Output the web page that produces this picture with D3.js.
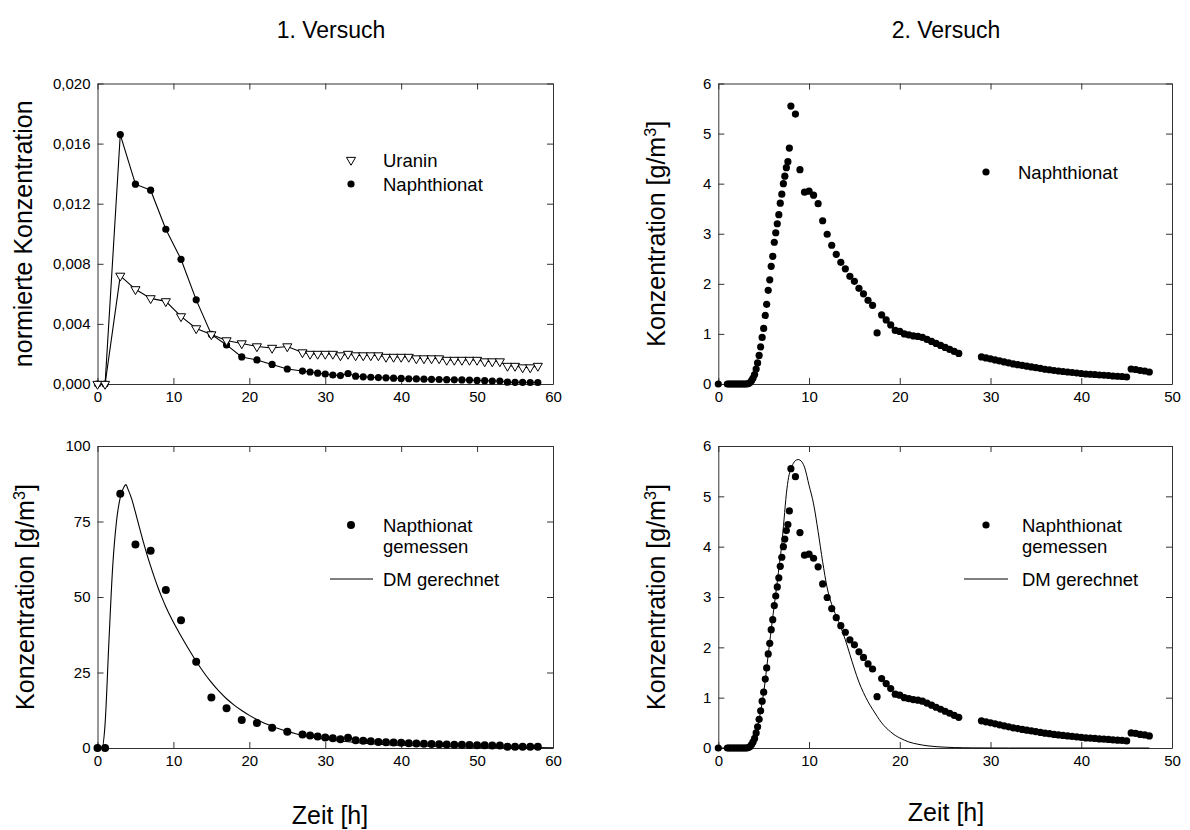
<!DOCTYPE html>
<html><head><meta charset="utf-8">
<script src="https://cdn.jsdelivr.net/npm/d3@7"></script>
<style>
body{margin:0;background:#fff;}
svg{display:block;}
text{font-family:"Liberation Sans",Arial,Helvetica,sans-serif;fill:#000;}
</style>
</head><body>
<svg id="chart" width="1190" height="830"></svg>
<script>
// ---------- Versuch 1 ----------
const v1Time = [0,1,3,5,7,9,11,13,15,17,19,21,23,25,27,28,29,30,31,32,33,34,35,36,37,38,39,40,41,42,43,44,45,46,47,48,49,50,51,52,53,54,55,56,57,58];
const uraninNorm = [0,0,0.0072,0.0063,0.0057,0.0055,0.0045,0.0037,0.0033,0.0029,0.0027,0.0025,0.0024,0.0025,
  0.0021,0.0020,0.0020,0.0020,0.0020,0.0019,0.0020,0.0019,0.0019,0.0019,0.0019,0.0018,0.0018,0.0018,0.0018,0.0017,0.0017,0.0017,0.0017,0.0016,0.0016,0.0016,0.0016,0.0016,0.0015,0.0015,0.0015,0.0012,0.0012,0.0011,0.0011,0.0012];
const naphNorm = [0,0,0.0166,0.0133,0.0129,0.0103,0.0083,0.0056,0.0033,0.0026,0.0018,0.0016,0.0013,0.0010,
  0.00086,0.0008,0.00072,0.00066,0.0006,0.00056,0.0007,0.00052,0.00048,0.00045,0.00043,0.00041,0.00039,0.00037,0.00035,0.00034,0.00032,0.00031,0.0003,0.00029,0.00028,0.00027,0.00026,0.00024,0.00022,0.0002,0.0002,0.00012,0.00011,0.00011,0.0001,0.0001];
const naphConc1 = [0,0,84.2,67.4,65.3,52.3,42.3,28.6,16.7,13.2,9.3,8.3,6.7,5.4,
  4.5,4.1,3.8,3.5,3.2,2.9,3.4,2.6,2.4,2.2,2.0,1.9,1.8,1.7,1.6,1.5,1.4,1.3,1.25,1.2,1.1,1.05,1.0,0.95,0.9,0.85,0.8,0.45,0.45,0.45,0.4,0.4];
const dm1Time = [0,0.6,1.0,1.5,2.0,2.5,3.0,3.5,3.75,4.0,4.5,5.0,5.5,6.0,6.5,7.0,7.5,8.0,8.5,9.0,9.5,10,11,12,13,14,15,16,17,18,19,20,21,22,23,24,25,26,27,28,29,30,32,34,36,38,40,45,50,55,60];
const dm1Conc = [0,0,8,35,60,75,83,86.5,87.2,85.8,82.5,78,73.2,68.6,64.2,60.2,56.4,52.9,49.7,46.8,44.1,41.6,37.1,32.8,28.7,25.0,21.7,18.8,16.3,14.2,12.4,10.8,9.4,8.2,7.2,6.3,5.5,4.8,4.2,3.7,3.3,2.9,2.3,1.8,1.4,1.1,0.9,0.5,0.3,0.2,0.1];

// ---------- Versuch 2 ----------
const v2Time = [0,1.00,1.17,1.33,1.50,1.67,1.83,2.00,2.17,2.33,2.50,2.67,2.83,3.00,3.17,3.33,3.50,3.67,3.83,4.00,4.17,4.33,4.50,4.67,4.83,5.00,5.17,5.33,5.50,5.67,5.83,6.00,6.17,6.33,6.50,6.67,6.83,7.00,7.17,7.33,7.50,7.67,7.83,8.00,
  8.5,9.0,9.5,10.0,10.5,11.0,11.5,12.0,12.5,13.0,13.5,14.0,14.5,15.0,15.5,16.0,16.5,17.0,17.5,18.0,18.5,19.0,19.5,20.0,20.5,21.0,21.5,22.0,22.5,23.0,23.5,24.0,24.5,25.0,25.5,26.0,26.5,
  29.0,29.5,30.0,30.5,31.0,31.5,32.0,32.5,33.0,33.5,34.0,34.5,35.0,35.5,36.0,36.5,37.0,37.5,38.0,38.5,39.0,39.5,40.0,40.5,41.0,41.5,42.0,42.5,43.0,43.5,44.0,44.5,45.0,
  45.5,46.0,46.5,47.0,47.5];
const naphConc2 = [0,0,0,0,0,0,0,0,0,0,0,0,0,0,0,
  0.01,0.03,0.07,0.12,0.19,0.30,0.42,0.57,0.74,0.93,1.11,1.37,1.59,1.87,2.08,2.35,2.55,2.83,3.02,3.20,3.38,3.61,3.79,4.00,4.15,4.32,4.44,4.71,5.55,
  5.39,4.28,3.83,3.85,3.77,3.60,3.26,2.99,2.77,2.59,2.43,2.30,2.15,2.05,1.91,1.80,1.67,1.57,1.02,1.38,1.28,1.18,1.07,1.05,1.00,0.98,0.96,0.95,0.93,0.89,0.85,0.81,0.77,0.73,0.69,0.65,0.61,
  0.54,0.52,0.50,0.48,0.46,0.44,0.42,0.40,0.385,0.37,0.355,0.34,0.325,0.31,0.295,0.285,0.27,0.26,0.25,0.24,0.23,0.22,0.21,0.20,0.195,0.19,0.18,0.175,0.17,0.16,0.155,0.15,0.14,
  0.30,0.29,0.27,0.26,0.24];
const dm2Time = [0,3.0,3.3,3.6,4.0,4.5,5.0,5.5,6.0,6.5,6.75,7.0,7.25,7.5,7.75,8.0,8.25,8.5,8.8,9.0,9.5,10.0,10.5,11.0,11.5,12.0,12.5,13.0,13.5,14.0,14.5,15.0,15.5,16.0,16.5,17.0,17.5,18.0,18.5,19.0,19.5,20,21,22,23,24,25,26,27,28,30,32,35,40,47.5];
const dm2Conc = [0,0,0.01,0.05,0.2,0.57,1.1,1.85,2.6,3.3,3.68,4.05,4.55,5.05,5.38,5.55,5.65,5.71,5.73,5.72,5.58,5.22,4.85,4.3,3.7,3.18,2.85,2.62,2.4,2.15,1.86,1.57,1.31,1.1,0.92,0.77,0.63,0.5,0.4,0.32,0.25,0.2,0.12,0.075,0.045,0.027,0.016,0.009,0.005,0.003,0.001,0,0,0,0];

// ---------- tick labels ----------
const xTicks1 = [0,10,20,30,40,50,60];
const yTicksNorm = [0,0.004,0.008,0.012,0.016,0.020];
const yTicksConc1 = [0,25,50,75,100];
const xTicks2 = [0,10,20,30,40,50];
const yTicksConc2 = [0,1,2,3,4,5,6];

const svg = d3.select("#chart");
const L = {x0:97.5, x1:553}, R = {x0:718.3, x1:1172};
const T = {y0:83.5, y1:384}, B = {y0:446, y1:748};
const TICK_FS = 15, LAB_FS = 25, LEG_FS = 18.5, TITLE_FS = 23;

function frame(xs, ys, xt, yt, fmt){
  const g = svg.append("g");
  const mk = (axis, tr, labels) => {
    const a = g.append("g").attr("transform", tr).call(axis);
    a.select(".domain").attr("stroke","#333").attr("stroke-width",1);
    a.selectAll(".tick line").attr("stroke","#333");
    a.selectAll("text").style("font-size",TICK_FS+"px").style("font-family",'"Liberation Sans",Arial,sans-serif').attr("fill","#000");
    if(!labels) a.selectAll("text").remove();
    return a;
  };
  const [ya, yb] = ys.range();
  const [xa, xb] = xs.range();
  mk(d3.axisBottom(xs).tickValues(xt).tickSizeInner(-6).tickSizeOuter(0).tickPadding(7).tickFormat(d3.format("d")), `translate(0,${ya})`, true);
  mk(d3.axisTop(xs).tickValues(xt).tickSizeInner(-6).tickSizeOuter(0), `translate(0,${yb})`, false);
  mk(d3.axisLeft(ys).tickValues(yt).tickSizeInner(-6).tickSizeOuter(0).tickPadding(7).tickFormat(fmt), `translate(${xa},0)`, true);
  mk(d3.axisRight(ys).tickValues(yt).tickSizeInner(-6).tickSizeOuter(0), `translate(${xb},0)`, false);
}
function yLabel(x, yc, parts){
  const t = svg.append("text").attr("transform",`translate(${x},${yc}) rotate(-90)`)
    .attr("text-anchor","middle").style("font-size",LAB_FS+"px");
  parts.forEach(p => {
    const s = t.append("tspan").text(p.t);
    if(p.sup){ s.attr("baseline-shift","super").style("font-size",(LAB_FS*0.65)+"px"); }
  });
}
const concLabel = [{t:"Konzentration [g/m"},{t:"3",sup:true},{t:"]"}];
const dot = (g, xs, ys, tArr, cArr, r) => g.selectAll(null).data(tArr).join("circle")
  .attr("cx", d => xs(d)).attr("cy", (d,i) => ys(cArr[i])).attr("r", r).attr("fill","#000");
const line = (xs, ys) => d3.line().x(d => xs(d[0])).y(d => ys(d[1]));
const triPath = d3.symbol(d3.symbolTriangle, 36)();
const legText = (x, y, s) => svg.append("text").attr("x",x).attr("y",y).style("font-size",LEG_FS+"px").text(s);

// ---------- Titles ----------
svg.append("text").attr("x",331).attr("y",38).attr("text-anchor","middle").style("font-size",TITLE_FS+"px").text("1. Versuch");
svg.append("text").attr("x",946).attr("y",38).attr("text-anchor","middle").style("font-size",TITLE_FS+"px").text("2. Versuch");

// ---------- Panel A (top-left) ----------
{
  const xs = d3.scaleLinear().domain([0,60]).range([L.x0,L.x1]);
  const ys = d3.scaleLinear().domain([0,0.020]).range([T.y1,T.y0]);
  frame(xs, ys, xTicks1, yTicksNorm, d => d3.format(".3f")(d).replace(".",","));
  const g = svg.append("g");
  g.append("path").datum(v1Time.map((t,i)=>[t,naphNorm[i]])).attr("d", line(xs,ys)).attr("fill","none").attr("stroke","#000").attr("stroke-width",1.1);
  g.append("path").datum(v1Time.map((t,i)=>[t,uraninNorm[i]])).attr("d", line(xs,ys)).attr("fill","none").attr("stroke","#000").attr("stroke-width",1.1);
  dot(g, xs, ys, v1Time, naphNorm, 3.6);
  g.selectAll(null).data(v1Time).join("path").attr("d", triPath)
    .attr("transform",(d,i)=>`translate(${xs(d)},${ys(uraninNorm[i])}) rotate(180)`)
    .attr("fill","#fff").attr("stroke","#000").attr("stroke-width",1);
  yLabel(32, (T.y0+T.y1)/2, [{t:"normierte Konzentration"}]);
  svg.append("path").attr("d",triPath).attr("transform","translate(351,160) rotate(180)").attr("fill","#fff").attr("stroke","#000");
  legText(383,166.5,"Uranin");
  svg.append("circle").attr("cx",351).attr("cy",184).attr("r",3.6).attr("fill","#000");
  legText(383,190.5,"Naphthionat");
}

// ---------- Panel B (bottom-left) ----------
{
  const xs = d3.scaleLinear().domain([0,60]).range([L.x0,L.x1]);
  const ys = d3.scaleLinear().domain([0,100]).range([B.y1,B.y0]);
  frame(xs, ys, xTicks1, yTicksConc1, d3.format("d"));
  const g = svg.append("g");
  g.append("path").datum(dm1Time.map((t,i)=>[t,dm1Conc[i]])).attr("d", line(xs,ys).curve(d3.curveMonotoneX)).attr("fill","none").attr("stroke","#000").attr("stroke-width",1.1);
  dot(g, xs, ys, v1Time, naphConc1, 4);
  yLabel(34, (B.y0+B.y1)/2, concLabel);
  svg.append("text").attr("x",330).attr("y",824).attr("text-anchor","middle").style("font-size",LAB_FS+"px").text("Zeit [h]");
  svg.append("circle").attr("cx",351).attr("cy",525).attr("r",4).attr("fill","#000");
  legText(383,531.5,"Napthionat");
  legText(383,552.5,"gemessen");
  svg.append("line").attr("x1",330).attr("x2",373).attr("y1",579).attr("y2",579).attr("stroke","#000").attr("stroke-width",1.1);
  legText(383,585.5,"DM gerechnet");
}

// ---------- Panel C (top-right) ----------
{
  const xs = d3.scaleLinear().domain([0,50]).range([R.x0,R.x1]);
  const ys = d3.scaleLinear().domain([0,6]).range([T.y1,T.y0]);
  frame(xs, ys, xTicks2, yTicksConc2, d3.format("d"));
  const g = svg.append("g");
  dot(g, xs, ys, v2Time, naphConc2, 3.6);
  yLabel(665, (T.y0+T.y1)/2, concLabel);
  svg.append("circle").attr("cx",986).attr("cy",172).attr("r",3.6).attr("fill","#000");
  legText(1018,178.5,"Naphthionat");
}

// ---------- Panel D (bottom-right) ----------
{
  const xs = d3.scaleLinear().domain([0,50]).range([R.x0,R.x1]);
  const ys = d3.scaleLinear().domain([0,6]).range([B.y1,B.y0]);
  frame(xs, ys, xTicks2, yTicksConc2, d3.format("d"));
  const g = svg.append("g");
  g.append("path").datum(dm2Time.map((t,i)=>[t,dm2Conc[i]])).attr("d", line(xs,ys).curve(d3.curveMonotoneX)).attr("fill","none").attr("stroke","#000").attr("stroke-width",1);
  dot(g, xs, ys, v2Time, naphConc2, 3.6);
  yLabel(665, (B.y0+B.y1)/2, concLabel);
  svg.append("text").attr("x",946).attr("y",821).attr("text-anchor","middle").style("font-size",LAB_FS+"px").text("Zeit [h]");
  svg.append("circle").attr("cx",986).attr("cy",525).attr("r",3.6).attr("fill","#000");
  legText(1022,531.5,"Naphthionat");
  legText(1022,552.5,"gemessen");
  svg.append("line").attr("x1",964).attr("x2",1008).attr("y1",579).attr("y2",579).attr("stroke","#000").attr("stroke-width",1);
  legText(1022,585.5,"DM gerechnet");
}
</script>
</body></html>
